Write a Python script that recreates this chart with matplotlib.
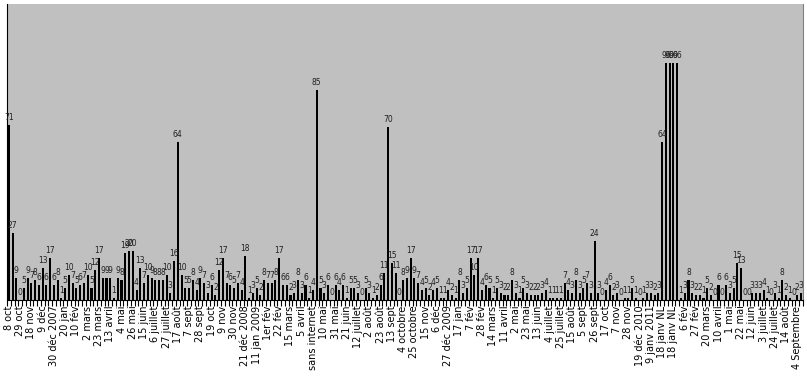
import numpy as np
import matplotlib.pyplot as plt

# weekly counts, one bar per week
values = [71, 27, 9, 0, 5, 9, 7, 8, 6, 13, 6, 17, 6, 8, 1, 5, 10, 7, 5, 6,
          7, 10, 5, 12, 17, 9, 9, 9, 1, 9, 8, 19, 20, 20, 4, 13, 7, 10, 9, 8,
          8, 8, 10, 3, 16, 64, 10, 5, 5, 8, 4, 9, 7, 3, 6, 2, 12, 17, 7, 6,
          5, 7, 4, 18, 1, 3, 5, 2, 8, 7, 7, 8, 17, 6, 6, 2, 3, 8, 3, 6,
          1, 4, 85, 5, 3, 6, 0, 6, 4, 6, 1, 5, 5, 3, 0, 5, 3, 1, 2, 6,
          11, 70, 15, 11, 0, 8, 9, 17, 9, 7, 4, 5, 2, 4, 5, 1, 1, 4, 2, 1,
          8, 3, 5, 17, 10, 17, 4, 6, 5, 1, 5, 3, 2, 2, 8, 3, 1, 5, 3, 2,
          2, 2, 3, 4, 1, 1, 1, 1, 7, 4, 3, 8, 3, 5, 7, 3, 24, 3, 0, 4,
          6, 2, 3, 0, 1, 1, 5, 1, 0, 1, 3, 3, 2, 3, 64, 96, 96, 96, 96, 1,
          3, 8, 3, 2, 2, 1, 5, 2, 0, 6, 0, 6, 3, 5, 15, 13, 0, 0, 3, 3,
          3, 4, 1, 0, 3, 1, 8, 2, 1, 0, 2, 3]

# one label every third week
tick_labels = ["8 oct", "29 oct", "18 nov", "9 déc", "30 déc 2007", "20 jan",
               "10 fév", "2 mars", "23 mars", "13 avril", "4 mai", "26 mai",
               "15 juin", "6 juillet", "27 juillet", "17 août", "7 sept",
               "28 sept", "19 oct", "9 nov", "30 nov", "21 déc 2008",
               "11 jan 2009", "1er fév", "22 fév", "15 mars", "5 avril",
               "sans internet", "10 mai", "31 mai", "21 juin", "12 juillet",
               "2 août", "23 août", "13 sept", "4 octobre", "25 octobre",
               "15 nov", "6 déc", "27 déc 2009", "17 jan", "7 fév", "28 fév",
               "14 mars", "11 avril", "2 mai", "23 mai", "13 juin", "4 juillet",
               "25 juillet", "15 août", "5 sept", "26 sept", "17 oct", "7 nov",
               "28 nov", "19 déc 2010", "9 janv 2011", "18 janv NL",
               "18 janv NL", "6 fév", "27 fév", "20 mars", "10 avril", "1 mai",
               "22 mai", "12 juin", "3 juillet", "24 juillet", "14 août",
               "4 Septembre"]

x = np.arange(len(values))

fig = plt.figure(figsize=(8.07, 3.80), dpi=100)
ax = fig.add_axes([7/807, 80/380, 796/807, 296/380])
ax.set_facecolor("#c0c0c0")

ax.bar(x, values, width=0.55, color="black")
for i, v in enumerate(values):
    ax.text(i, v + 1.2, str(v), ha="center", va="bottom", fontsize=5.5,
            color="#202020")

ax.set_xlim(-0.5, len(values) - 0.5)
ax.set_ylim(0, 120)
ax.set_yticks([])

ax.set_xticks(x[::3])
ax.set_xticklabels(tick_labels, rotation=90, fontsize=7)
ax.set_xticks(np.arange(-0.5, len(values), 1), minor=True)
ax.tick_params(axis="x", which="major", length=0, pad=4)
ax.tick_params(axis="x", which="minor", length=4, width=0.8)

for s in ["left", "bottom"]:
    ax.spines[s].set_color("black")
ax.spines["right"].set_color("#808080")
ax.spines["top"].set_visible(False)

fig.savefig("out.png", dpi=100)
